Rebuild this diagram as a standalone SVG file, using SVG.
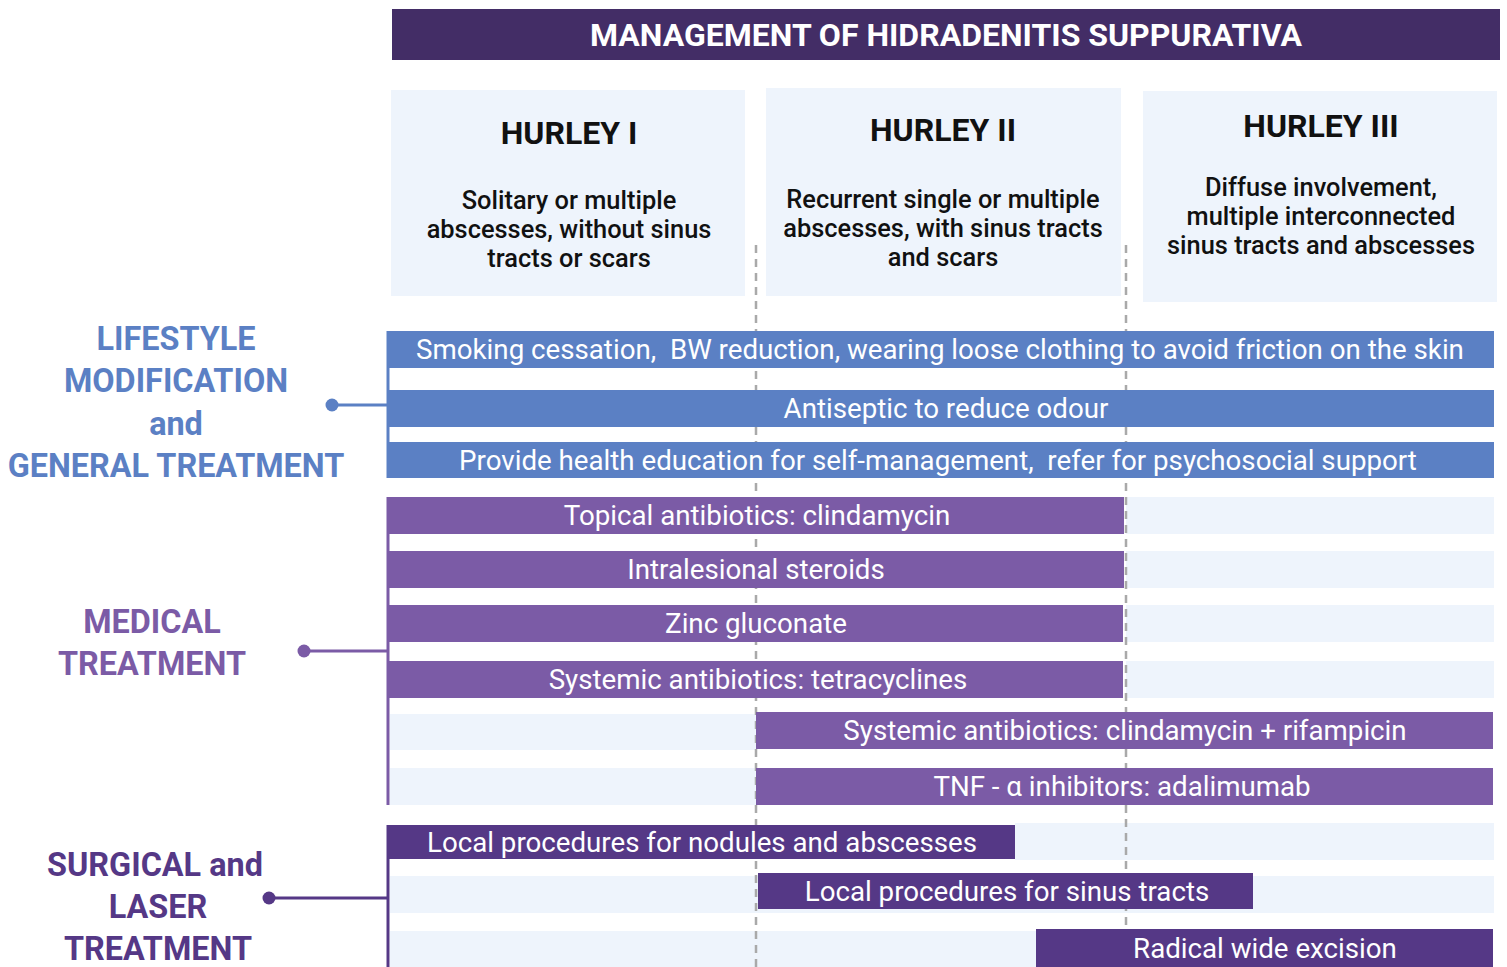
<svg xmlns="http://www.w3.org/2000/svg" width="1507" height="967" viewBox="0 0 1507 967">
<style>
.bg{fill:#eef4fc}
.hd{font-family:Roboto,"Liberation Sans",sans-serif;font-weight:bold;font-size:32px;fill:#111;text-anchor:middle}
.ds{font-family:Roboto,"Liberation Sans",sans-serif;font-weight:500;font-size:25.4px;fill:#111;text-anchor:middle}
.bt{font-family:Roboto,"Liberation Sans",sans-serif;font-size:27.7px;fill:#fff;text-anchor:middle;white-space:pre}
.blue{fill:#5b80c4}
.med{fill:#7b5ba6}
.sur{fill:#553886}
.lb{font-family:Roboto,"Liberation Sans",sans-serif;font-weight:bold;font-size:32.4px;text-anchor:middle}
.dash{stroke:#a9a9a9;stroke-width:2.5;stroke-dasharray:8,6;fill:none}
</style>
<rect width="1507" height="967" fill="#fff"/>
<g id="title">
<rect x="392" y="9" width="1108" height="51" fill="#432d66"/>
<text x="946" y="46" font-family="Roboto,'Liberation Sans',sans-serif" font-weight="bold" font-size="32" fill="#fff" text-anchor="middle">MANAGEMENT OF HIDRADENITIS SUPPURATIVA</text>
</g>
<g id="hurley1">
<rect class="bg" x="391" y="90" width="354" height="206"/>
<text class="hd" x="569" y="144">HURLEY I</text>
<text class="ds" x="569" y="209">Solitary or multiple</text>
<text class="ds" x="569" y="238">abscesses, without sinus</text>
<text class="ds" x="569" y="267">tracts or scars</text>
</g>
<g id="hurley2">
<rect class="bg" x="766" y="88" width="355" height="208"/>
<text class="hd" x="943" y="141">HURLEY II</text>
<text class="ds" x="943" y="208">Recurrent single or multiple</text>
<text class="ds" x="943" y="237">abscesses, with sinus tracts</text>
<text class="ds" x="943" y="266">and scars</text>
</g>
<g id="hurley3">
<rect class="bg" x="1143" y="91" width="354" height="211"/>
<text class="hd" x="1321" y="137">HURLEY III</text>
<text class="ds" x="1321" y="196">Diffuse involvement,</text>
<text class="ds" x="1321" y="225">multiple interconnected</text>
<text class="ds" x="1321" y="254">sinus tracts and abscesses</text>
</g>
<g id="background-rows">
<rect class="bg" x="1126" y="497" width="368" height="37"/>
<rect class="bg" x="1126" y="551" width="368" height="37"/>
<rect class="bg" x="1126" y="605" width="368" height="37"/>
<rect class="bg" x="1126" y="661" width="368" height="37"/>
<rect class="bg" x="390" y="714" width="366" height="36"/>
<rect class="bg" x="390" y="768" width="366" height="37"/>
<rect class="bg" x="1015" y="823" width="479" height="37"/>
<rect class="bg" x="390" y="876" width="1104" height="37"/>
<rect class="bg" x="390" y="931" width="646" height="36"/>
</g>
<g id="connectors">
<line class="dash" x1="756" y1="245" x2="756" y2="967"/>
<line class="dash" x1="1126" y1="245" x2="1126" y2="967"/>
<line x1="388" y1="331" x2="388" y2="478" stroke="#5b80c4" stroke-width="3"/>
<line x1="332" y1="405" x2="388" y2="405" stroke="#5b80c4" stroke-width="3"/>
<circle cx="332" cy="405" r="6.5" fill="#5b80c4"/>
<line x1="388" y1="497" x2="388" y2="805" stroke="#7b5ba6" stroke-width="3"/>
<line x1="304" y1="651" x2="388" y2="651" stroke="#7b5ba6" stroke-width="3"/>
<circle cx="304" cy="651" r="6.5" fill="#7b5ba6"/>
<line x1="388" y1="825" x2="388" y2="967" stroke="#553886" stroke-width="3"/>
<line x1="269" y1="898" x2="388" y2="898" stroke="#553886" stroke-width="3"/>
<circle cx="269" cy="898" r="6.5" fill="#553886"/>
</g>
<g id="lifestyle-label">
<text class="lb" x="176" y="350" fill="#5b80c4">LIFESTYLE</text>
<text class="lb" x="176" y="392" fill="#5b80c4">MODIFICATION</text>
<text class="lb" x="176" y="435" fill="#5b80c4">and</text>
<text class="lb" x="176" y="477" fill="#5b80c4">GENERAL TREATMENT</text>
</g>
<g id="medical-label">
<text class="lb" x="152" y="633" fill="#7b5ba6">MEDICAL</text>
<text class="lb" x="152" y="675" fill="#7b5ba6">TREATMENT</text>
</g>
<g id="surgical-label">
<text class="lb" x="155" y="876" fill="#553886">SURGICAL and</text>
<text class="lb" x="158" y="918" fill="#553886">LASER</text>
<text class="lb" x="158" y="960" fill="#553886">TREATMENT</text>
</g>
<g id="bar-smoking">
<rect class="blue" x="388" y="331" width="1106" height="37"/>
<text class="bt" x="940" y="359" xml:space="preserve">Smoking cessation,  BW reduction, wearing loose clothing to avoid friction on the skin</text>
</g>
<g id="bar-antiseptic">
<rect class="blue" x="388" y="390" width="1106" height="37"/>
<text class="bt" x="946" y="418">Antiseptic to reduce odour</text>
</g>
<g id="bar-education">
<rect class="blue" x="388" y="442" width="1106" height="36"/>
<text class="bt" x="938" y="470" xml:space="preserve">Provide health education for self-management,  refer for psychosocial support</text>
</g>
<g id="bar-topical">
<rect class="med" x="388" y="497" width="736" height="37"/>
<text class="bt" x="757" y="525">Topical antibiotics: clindamycin</text>
</g>
<g id="bar-intralesional">
<rect class="med" x="388" y="551" width="736" height="37"/>
<text class="bt" x="756" y="579">Intralesional steroids</text>
</g>
<g id="bar-zinc">
<rect class="med" x="388" y="605" width="735" height="37"/>
<text class="bt" x="756" y="633">Zinc gluconate</text>
</g>
<g id="bar-tetracyclines">
<rect class="med" x="388" y="661" width="735" height="37"/>
<text class="bt" x="758" y="689">Systemic antibiotics: tetracyclines</text>
</g>
<g id="bar-clinda-rif">
<rect class="med" x="756" y="712" width="737" height="37"/>
<text class="bt" x="1125" y="740">Systemic antibiotics: clindamycin + rifampicin</text>
</g>
<g id="bar-tnf">
<rect class="med" x="756" y="768" width="737" height="37"/>
<text class="bt" x="1122" y="796">TNF - α inhibitors: adalimumab</text>
</g>
<g id="bar-local-nodules">
<rect class="sur" x="388" y="825" width="627" height="34"/>
<text class="bt" x="702" y="852">Local procedures for nodules and abscesses</text>
</g>
<g id="bar-sinus">
<rect class="sur" x="758" y="873" width="495" height="36"/>
<text class="bt" x="1007" y="901">Local procedures for sinus tracts</text>
</g>
<g id="bar-radical">
<rect class="sur" x="1036" y="929" width="457" height="38"/>
<text class="bt" x="1265" y="958">Radical wide excision</text>
</g>
</svg>
